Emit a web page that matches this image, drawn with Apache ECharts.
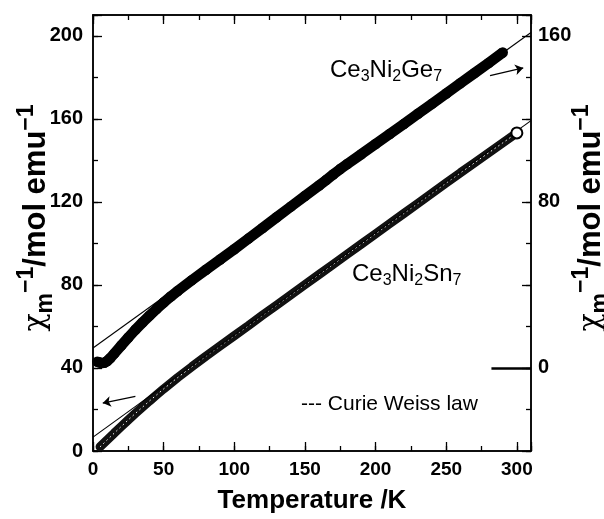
<!DOCTYPE html>
<html>
<head>
    <meta charset="utf-8">
    <title>Ce3Ni2Ge7 / Ce3Ni2Sn7</title>
    <script src="https://cdn.jsdelivr.net/npm/echarts@6/dist/echarts.min.js"></script>
    <style>
        body { margin: 0; background: #fff; }
    </style>
</head>
<body>
<div id="main" style="width: 604px;height:519px;"></div>
<script type="text/javascript">
    // Ce3Ni2Ge7 -> right axis (arrow points right)
    var geT = [3, 4, 6, 8, 10, 12, 15, 20, 25, 30, 35, 40, 45, 50, 55, 60, 70, 80, 90, 100,
        110, 120, 130, 140, 150, 160, 165, 170, 175, 180, 190, 200, 210, 220, 230, 240, 250, 260, 270, 280, 290];
    var geChi = [3.0, 2.8, 2.4, 2.5, 3.3, 4.6, 6.9, 10.8, 14.7, 18.4, 21.9, 25.2, 28.4, 31.5, 34.4, 37.1, 42.3, 47.3, 52.2, 57.2,
        62.3, 67.4, 72.6, 77.7, 82.8, 87.9, 90.5, 93.2, 95.8, 98.2, 103.0, 107.9, 112.7, 117.5, 122.4, 127.3, 132.2, 137.1, 142.0, 146.9, 151.9];

    // Ce3Ni2Sn7 -> left axis (arrow points left)
    var snT = [5, 10, 15, 20, 25, 30, 35, 40, 45, 50, 60, 70, 80, 90, 100, 110, 120, 130,
        140, 150, 160, 170, 180, 190, 200, 210, 220, 230, 240, 250, 260, 270, 280, 290, 300];
    var snChi = [2.0, 5.3, 8.6, 11.8, 15.0, 18.1, 21.1, 24.1, 27.0, 29.9, 35.4, 40.6, 45.7, 50.6, 55.5, 60.4, 65.4, 70.3,
        75.2, 80.1, 85.0, 89.9, 94.8, 99.7, 104.6, 109.5, 114.4, 119.3, 124.2, 129.1, 134.0, 138.8, 143.6, 148.4, 153.2];

    // Curie-Weiss fit lines (end points)
    var cwGeT = [0, 310];
    var cwGeChi = [9.6, 161.6];
    var cwSnT = [0, 310];
    var cwSnChi = [6.7, 159.1];

    // arrows and the zero mark of the right axis
    var arrowGe = [[281, 140.8], [304.5, 144.5]];
    var arrowSn = [[30, 26.3], [6.9, 23.1]];
    var zeroMark = [[282, 0], [310, 0]];

    var xLabels = [0, 50, 100, 150, 200, 250, 300];
    var leftLabels = [0, 40, 80, 120, 160, 200];
    var rightLabels = [0, 80, 160];

    function pairs(xs, ys) {
        return xs.map(function (x, i) { return [x, ys[i]]; });
    }

    var FONT = 'Liberation Sans, Arial, sans-serif';
    var black = '#000';

    function xAx(pos, interval, len, labels) {
        return {
            type: 'value', position: pos, min: 0, max: 310, interval: interval,
            axisLine: { show: true, onZero: false, lineStyle: { color: black, width: 1.5 } },
            axisTick: { show: true, inside: true, length: len, lineStyle: { color: black, width: 1.3 } },
            axisLabel: {
                show: labels, margin: 9, color: black, fontFamily: FONT, fontWeight: 'bold', fontSize: 19,
                formatter: function (v) { return xLabels.indexOf(v) >= 0 ? String(v) : ''; }
            },
            splitLine: { show: false }
        };
    }

    function yAx(pos, min, max, interval, len, labelList) {
        return {
            type: 'value', position: pos, min: min, max: max, interval: interval,
            axisLine: { show: true, onZero: false, lineStyle: { color: black, width: 1.5 } },
            axisTick: { show: true, inside: true, length: len, lineStyle: { color: black, width: 1.3 } },
            axisLabel: {
                show: !!labelList, margin: pos === 'left' ? 10 : 7, color: black,
                fontFamily: FONT, fontWeight: 'bold', fontSize: 20,
                formatter: function (v) { return labelList && labelList.indexOf(v) >= 0 ? String(v) : ''; }
            },
            splitLine: { show: false }
        };
    }

    var bottomAxis = xAx('bottom', 50, 9, true);
    bottomAxis.name = 'Temperature /K';
    bottomAxis.nameLocation = 'middle';
    bottomAxis.nameGap = 37;
    bottomAxis.nameTextStyle = { color: black, fontFamily: FONT, fontWeight: 'bold', fontSize: 26 };

    var yTitleRich = {
        chi: { fontFamily: 'DejaVu Serif', fontSize: 30, lineHeight: 42, color: black },
        sub: { fontFamily: FONT, fontWeight: 'bold', fontSize: 23, lineHeight: 23, verticalAlign: 'bottom', color: black },
        sup: { fontFamily: FONT, fontWeight: 'bold', fontSize: 23, lineHeight: 23, verticalAlign: 'top', color: black },
        main: { fontFamily: FONT, fontWeight: 'bold', fontSize: 31, lineHeight: 42, color: black }
    };
    var yTitle = '{chi|χ}{sub|m}{sup|−1}{main|/mol emu}{sup|−1}';

    var formulaRich = {
        b: { fontFamily: FONT, fontSize: 24, lineHeight: 30, color: black },
        s: { fontFamily: FONT, fontSize: 16, lineHeight: 16, verticalAlign: 'bottom', color: black }
    };

    var myChart = echarts.init(document.getElementById('main'), null, { renderer: 'canvas' });

    myChart.setOption({
        animation: false,
        backgroundColor: '#fff',
        grid: { left: 93, right: 73, top: 15, bottom: 65 },
        xAxis: [
            bottomAxis,
            xAx('bottom', 25, 5, false),
            xAx('top', 50, 9, false),
            xAx('top', 25, 5, false)
        ],
        yAxis: [
            yAx('left', 0, 210, 40, 9, leftLabels),
            yAx('left', 0, 210, 20, 5, null),
            yAx('right', -40, 170, 40, 9, rightLabels),
            yAx('right', -40, 170, 20, 5, null)
        ],
        graphic: [
            {
                type: 'text', x: 36, y: 218, rotation: Math.PI / 2,
                style: { text: yTitle, rich: yTitleRich, align: 'center', verticalAlign: 'middle' }
            },
            {
                type: 'text', x: 591, y: 218, rotation: Math.PI / 2,
                style: { text: yTitle, rich: yTitleRich, align: 'center', verticalAlign: 'middle' }
            },
            {
                type: 'text', x: 330, y: 70,
                style: { text: '{b|Ce}{s|3}{b|Ni}{s|2}{b|Ge}{s|7}', rich: formulaRich, align: 'left', verticalAlign: 'middle' }
            },
            {
                type: 'text', x: 352, y: 274,
                style: { text: '{b|Ce}{s|3}{b|Ni}{s|2}{b|Sn}{s|7}', rich: formulaRich, align: 'left', verticalAlign: 'middle' }
            },
            {
                type: 'text', x: 301, y: 404,
                style: { text: '--- Curie Weiss law', fill: black, font: '21px ' + FONT, align: 'left', verticalAlign: 'middle' }
            }
        ],
        series: [
            {
                name: 'Ce3Ni2Ge7', type: 'line', xAxisIndex: 0, yAxisIndex: 2,
                data: pairs(geT, geChi),
                symbol: 'circle', symbolSize: 10.5, showAllSymbol: true,
                itemStyle: { color: black },
                lineStyle: { color: black, width: 10.5 },
                z: 3
            },
            {
                name: 'Ce3Ni2Sn7', type: 'line', xAxisIndex: 0, yAxisIndex: 0,
                data: pairs(snT, snChi),
                symbol: 'none',
                lineStyle: { color: '#111', width: 9, cap: 'round' },
                z: 3
            },
            {
                // white speckle on the open-circle band
                name: 'Ce3Ni2Sn7 hatch', type: 'line', xAxisIndex: 0, yAxisIndex: 0,
                data: pairs(snT, snChi),
                symbol: 'none',
                lineStyle: { color: '#fff', width: 1, type: [1.5, 3] },
                z: 4
            },
            {
                name: 'Ce3Ni2Sn7 last', type: 'scatter', xAxisIndex: 0, yAxisIndex: 0,
                data: [[snT[snT.length - 1], snChi[snChi.length - 1]]],
                symbol: 'circle', symbolSize: 11,
                itemStyle: { color: '#fff', borderColor: black, borderWidth: 2, opacity: 1 },
                z: 7
            },
            {
                name: 'CW Ge', type: 'line', xAxisIndex: 0, yAxisIndex: 2,
                data: pairs(cwGeT, cwGeChi),
                symbol: 'none',
                lineStyle: { color: black, width: 1.1 },
                z: 6,
                markLine: {
                    silent: true, animation: false, label: { show: false },
                    data: [
                        [{ coord: arrowGe[0], symbol: 'none' }, { coord: arrowGe[1], symbol: 'arrow', symbolSize: 8 }],
                        [{ coord: zeroMark[0], symbol: 'none', lineStyle: { width: 2.6 } }, { coord: zeroMark[1], symbol: 'none' }]
                    ],
                    lineStyle: { color: black, type: 'solid', width: 1.2 }
                }
            },
            {
                name: 'CW Sn', type: 'line', xAxisIndex: 0, yAxisIndex: 0,
                data: pairs(cwSnT, cwSnChi),
                symbol: 'none',
                lineStyle: { color: black, width: 1.1 },
                z: 6,
                markLine: {
                    silent: true, animation: false, label: { show: false },
                    data: [
                        [{ coord: arrowSn[0], symbol: 'none' }, { coord: arrowSn[1], symbol: 'arrow', symbolSize: 8 }]
                    ],
                    lineStyle: { color: black, type: 'solid', width: 1.2 }
                }
            }
        ]
    });
</script>
</body>
</html>
